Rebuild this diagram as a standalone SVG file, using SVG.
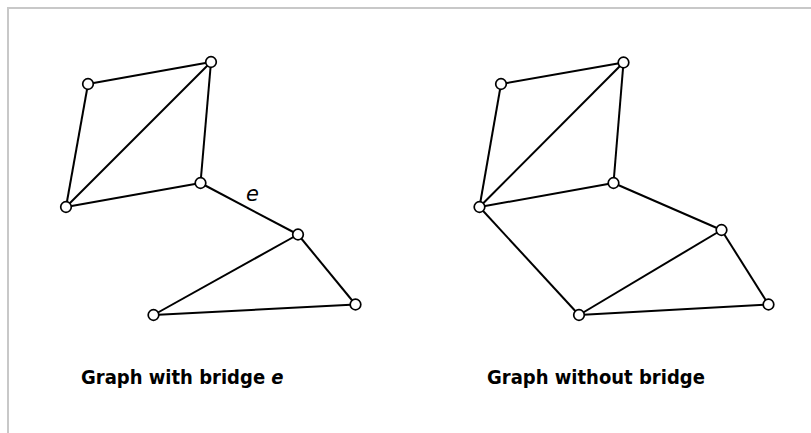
<svg xmlns="http://www.w3.org/2000/svg" width="811" height="433" viewBox="0 0 811 433">
<style>
.edge{stroke:#000;stroke-width:2;fill:none}
.node{fill:#fff;stroke:#000;stroke-width:1.7}
.lbl{font-family:"DejaVu Sans Condensed","DejaVu Sans",Verdana,sans-serif;font-stretch:condensed;font-weight:bold;font-size:20px;fill:#000}
.it{font-family:"DejaVu Sans",Verdana,sans-serif;font-style:italic;font-size:21px;fill:#000}
</style>
<rect x="0" y="0" width="811" height="433" fill="#fff"/>
<path d="M8 433 V8 H811" stroke="#c8c8c8" stroke-width="2" fill="none"/>
<g id="connectors">
<line class="edge" x1="88" y1="84" x2="211" y2="62"/>
<line class="edge" x1="88" y1="84" x2="66" y2="207"/>
<line class="edge" x1="211" y1="62" x2="66" y2="207"/>
<line class="edge" x1="211" y1="62" x2="200.5" y2="183"/>
<line class="edge" x1="66" y1="207" x2="200.5" y2="183"/>
<line class="edge" x1="200.5" y1="183" x2="298" y2="234.5"/>
<line class="edge" x1="298" y1="234.5" x2="153.5" y2="315"/>
<line class="edge" x1="298" y1="234.5" x2="355.5" y2="304.5"/>
<line class="edge" x1="153.5" y1="315" x2="355.5" y2="304.5"/>
<line class="edge" x1="501" y1="84" x2="623.5" y2="62.5"/>
<line class="edge" x1="501" y1="84" x2="479.5" y2="207"/>
<line class="edge" x1="623.5" y1="62.5" x2="479.5" y2="207"/>
<line class="edge" x1="623.5" y1="62.5" x2="613.5" y2="183"/>
<line class="edge" x1="479.5" y1="207" x2="613.5" y2="183"/>
<line class="edge" x1="479.5" y1="207" x2="579" y2="315"/>
<line class="edge" x1="613.5" y1="183" x2="721.5" y2="230"/>
<line class="edge" x1="721.5" y1="230" x2="579" y2="315"/>
<line class="edge" x1="721.5" y1="230" x2="768.5" y2="304.5"/>
<line class="edge" x1="579" y1="315" x2="768.5" y2="304.5"/>
</g>
<g id="left-nodes">
<circle id="L1" class="node" cx="88" cy="84" r="5.3"/>
<circle id="L2" class="node" cx="211" cy="62" r="5.3"/>
<circle id="L3" class="node" cx="66" cy="207" r="5.3"/>
<circle id="L4" class="node" cx="200.5" cy="183" r="5.3"/>
<circle id="L5" class="node" cx="298" cy="234.5" r="5.3"/>
<circle id="L6" class="node" cx="153.5" cy="315" r="5.3"/>
<circle id="L7" class="node" cx="355.5" cy="304.5" r="5.3"/>
</g>
<g id="right-nodes">
<circle id="R1" class="node" cx="501" cy="84" r="5.3"/>
<circle id="R2" class="node" cx="623.5" cy="62.5" r="5.3"/>
<circle id="R3" class="node" cx="479.5" cy="207" r="5.3"/>
<circle id="R4" class="node" cx="613.5" cy="183" r="5.3"/>
<circle id="R5" class="node" cx="721.5" cy="230" r="5.3"/>
<circle id="R6" class="node" cx="579" cy="315" r="5.3"/>
<circle id="R7" class="node" cx="768.5" cy="304.5" r="5.3"/>
</g>
<g id="labels">
<text class="it" x="246" y="201">e</text>
<text class="lbl" x="81" y="384">Graph with bridge <tspan font-style="italic">e</tspan></text>
<text class="lbl" x="487" y="384">Graph without bridge</text>
</g>
</svg>
